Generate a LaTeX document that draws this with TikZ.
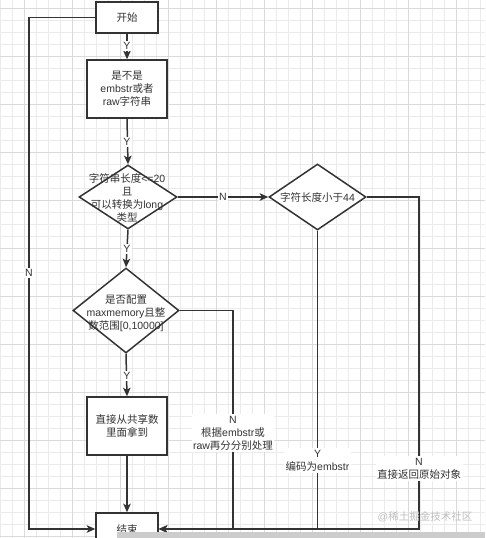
\documentclass[tikz,border=0pt]{standalone}
\usepackage{fontspec}
\setmainfont{Liberation Sans}
\newfontfamily\cjk{Noto Sans CJK SC}
\newcommand\zh[1]{{\cjk #1}}
\usetikzlibrary{shapes.geometric,arrows.meta}
\definecolor{ink}{HTML}{333333}
\definecolor{gridminor}{HTML}{EBEBEB}
\definecolor{gridmajor}{HTML}{DADADA}
\tikzset{
  base/.style={draw=ink, line width=1.5pt, text=ink, font=\fontsize{10.5}{13}\selectfont, align=center},
  boxnode/.style={base, rectangle, inner sep=0pt},
  dianode/.style={base, diamond, inner sep=0pt},
  txt/.style={text=ink, font=\fontsize{10.5}{13}\selectfont, align=center, inner sep=0pt},
  lbl/.style={txt, fill=white, inner sep=1.5pt},
  conn/.style={draw=ink, line width=1.5pt},
  arr/.style={conn, -{Stealth[length=8.5pt,width=7.5pt,inset=2pt]}},
}
\begin{document}
\begin{tikzpicture}[x=1pt,y=-1pt]
\useasboundingbox (0,0) rectangle (485,538);
\fill[white] (0,0) rectangle (485,538);
% grid
\foreach \gx in {0,12,...,480} {\draw[gridminor, line width=0.6pt] (\gx,0) -- (\gx,538);}
\foreach \gy in {8,20,...,536} {\draw[gridminor, line width=0.6pt] (0,\gy) -- (485,\gy);}
\foreach \gx in {24,72,...,480} {\draw[gridmajor, line width=0.7pt] (\gx,0) -- (\gx,538);}
\foreach \gy in {8,56,...,536} {\draw[gridmajor, line width=0.7pt] (0,\gy) -- (485,\gy);}

% nodes
\node[boxnode, fill=white, minimum width=62pt, minimum height=31pt] (start) at (127,17.5) {\zh{开始}};
\node[boxnode, fill=white, minimum width=80pt, minimum height=58pt] (chk) at (127,89) {\zh{是不是}\\embstr\zh{或者}\\raw\zh{字符串}};
\node[dianode, fill=white, minimum width=98pt, minimum height=64pt] (d1) at (128,197) {};
\node[txt] (d1t) at (127,198) {\zh{字符串长度}<=20\\\zh{且}\\\zh{可以转换为}long\\\zh{类型}};
\node[dianode, fill=white, minimum width=97pt, minimum height=66pt] (d2) at (317.5,197) {};
\node[txt] (d2t) at (317.5,197) {\zh{字符长度小于}44};
\node[dianode, fill=white, minimum width=106pt, minimum height=85pt] (d3) at (126,310.5) {};
\node[txt] (d3t) at (126,313) {\zh{是否配置}\\maxmemory\zh{且整}\\\zh{数范围}[0,10000]};
\node[boxnode, fill=white, minimum width=80pt, minimum height=58pt] (shr) at (127,426) {\zh{直接从共享数}\\\zh{里面拿到}};
\node[boxnode, fill=white, minimum width=62pt, minimum height=33pt] (end) at (127,529.5) {\zh{结束}};

% corner coordinates
\coordinate (lt) at (29,17.5);
\coordinate (lb) at (29,529);
\coordinate (m1) at (233,310.5);
\coordinate (m2) at (233,529);
\coordinate (m3) at (317.5,529);
\coordinate (r1) at (419,197);
\coordinate (r2) at (419,529);
\coordinate (ew) at (end.west |- lb);
\coordinate (ee) at (end.east |- lb);

% connectors
\draw[arr] (start.west) -- (lt) -- (lb) -- (ew);
\draw[arr] (start.south) -- (chk.north);
\draw[arr] (chk.south) -- (d1.north);
\draw[arr] (d1.east) -- (d2.west);
\draw[arr] (d1.south) -- (d3.north);
\draw[arr] (d3.south) -- (shr.north);
\draw[arr] (shr.south) -- (end.north);
\draw[arr] (d3.east) -- (m1) -- (m2) -- (ee);
\draw[conn] (d2.south) -- (m3);
\draw[arr] (d2.east) -- (r1) -- (r2) -- (ee);

% labels
\node[lbl] (ln1) at (29,273) {N};
\node[lbl] (ly1) at (127,46) {Y};
\node[lbl] (ly2) at (127,142) {Y};
\node[lbl] (ln2) at (223,197) {N};
\node[lbl] (ly3) at (127,249) {Y};
\node[lbl] (ly4) at (127,376) {Y};
\node[lbl] (ln3) at (233,433) {N\\\zh{根据}embstr\zh{或}\\raw\zh{再分分别处理}};
\node[lbl] (ly5) at (317.5,460.5) {Y\\\zh{编码为}embstr};
\node[lbl] (ln4) at (419,468.5) {N\\\zh{直接返回原始对象}};

% watermark and bottom bar
\node[txt, text=black!25] (wm) at (425,517) {@\zh{稀土掘金技术社区}};
\fill[black!20] (117,532) rectangle (485,538);
\end{tikzpicture}
\end{document}
